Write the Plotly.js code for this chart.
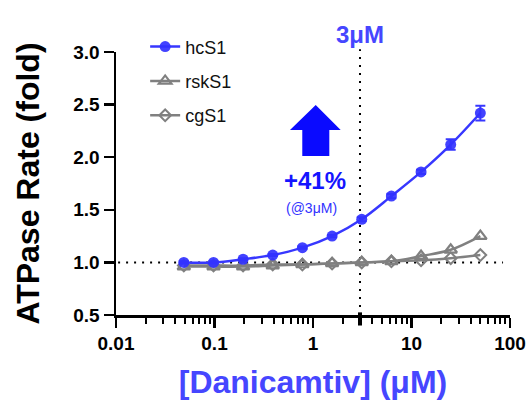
<!DOCTYPE html>
<html>
<head>
<meta charset="utf-8">
<script src="https://cdn.plot.ly/plotly-3.0.1.min.js"></script>
<style>html,body{margin:0;padding:0;background:#fff;}#chart{width:528px;height:400px;}</style>
</head>
<body>
<div id="chart"></div>
<script>
// Concentrations of Danicamtiv (µM), two-fold dilution series
const conc = [0.0488, 0.0977, 0.195, 0.39, 0.78, 1.5625, 3.125, 6.25, 12.5, 25, 50];
// ATPase rate (fold) per myosin
const hcS1 = [1.00, 1.00, 1.03, 1.07, 1.14, 1.25, 1.41, 1.63, 1.86, 2.12, 2.42];
const hcS1Err = [0.01, 0.01, 0.01, 0.01, 0.01, 0.01, 0.02, 0.02, 0.02, 0.05, 0.07];
const rskS1 = [0.96, 0.96, 0.96, 0.97, 0.98, 0.99, 1.00, 1.01, 1.06, 1.12, 1.25];
const cgS1 = [0.97, 0.97, 0.97, 0.98, 0.98, 0.99, 1.00, 1.01, 1.02, 1.04, 1.07];
const xTickVals = [0.01, 0.1, 1, 10, 100];
const xTickText = ['0.01', '0.1', '1', '10', '100'];
const yTickVals = [0.5, 1.0, 1.5, 2.0, 2.5, 3.0];
const refDose = 3;      // µM reference line
const baseline = 1.0;   // fold baseline

const FONT = 'Liberation Sans, Arial, Helvetica, sans-serif';
const BLUE = 'rgb(55,55,255)';
const GRAY = 'rgb(128,128,128)';

const traces = [
  {
    x: conc, y: rskS1, name: 'rskS1', type: 'scatter', mode: 'lines+markers',
    line: {color: GRAY, width: 2.5, shape: 'spline'},
    marker: {symbol: 'triangle-up-open', size: 11, color: GRAY, line: {width: 2.2}},
    legendgroup: 'b', legendrank: 2, cliponaxis: false
  },
  {
    x: conc, y: cgS1, name: 'cgS1', type: 'scatter', mode: 'lines+markers',
    line: {color: GRAY, width: 2.5, shape: 'spline'},
    marker: {symbol: 'diamond-open', size: 9, color: GRAY, line: {width: 2}},
    legendgroup: 'c', legendrank: 3, cliponaxis: false
  },
  {
    x: conc, y: hcS1, name: 'hcS1', type: 'scatter', mode: 'lines+markers',
    line: {color: BLUE, width: 2.5, shape: 'spline'},
    marker: {symbol: 'circle', size: 11, color: 'rgba(50,50,255,0.92)'},
    error_y: {type: 'data', array: hcS1Err, visible: true, color: BLUE, thickness: 2, width: 5},
    legendgroup: 'a', legendrank: 1, cliponaxis: false
  }
];

const layout = {
  width: 528, height: 400,
  margin: {l: 116, r: 18, t: 52, b: 85},
  paper_bgcolor: '#fff', plot_bgcolor: '#fff',
  font: {family: FONT, color: '#000'},
  showlegend: true,
  legend: {
    x: 0.074, y: 1.09, xanchor: 'left', yanchor: 'top',
    font: {family: FONT, size: 18, color: '#111'},
    bgcolor: 'rgba(0,0,0,0)', traceorder: 'grouped', tracegroupgap: 8
  },
  xaxis: {
    type: 'log', range: [-2, 2],
    showgrid: false, zeroline: false,
    showline: true, linecolor: '#000', linewidth: 2.5,
    ticks: 'outside', ticklen: 10, tickwidth: 2.5, tickcolor: '#000',
    tickvals: xTickVals, ticktext: xTickText,
    tickfont: {family: FONT, size: 19, weight: 'bold', color: '#000'},
    minor: {ticks: 'outside', ticklen: 6, tickwidth: 2, tickcolor: '#000', dtick: 'D1', showgrid: false},
    title: {text: '[Danicamtiv] (μM)', font: {family: FONT, size: 32, weight: 'bold', color: 'rgb(70,70,255)'}, standoff: 20},
    automargin: false
  },
  yaxis: {
    range: [0.5, 3.0],
    showgrid: false, zeroline: false,
    showline: true, linecolor: '#000', linewidth: 2.5,
    ticks: 'outside', ticklen: 10, tickwidth: 2.5, tickcolor: '#000',
    tickvals: yTickVals, tickformat: '.1f',
    tickfont: {family: FONT, size: 19, weight: 'bold', color: '#000'},
    title: {text: 'ATPase Rate (fold)', font: {family: FONT, size: 32, weight: 'bold', color: '#000'}, standoff: 24},
    automargin: false
  },
  shapes: [
    {type: 'line', xref: 'x', yref: 'y', x0: 0.0105, x1: 85, y0: baseline, y1: baseline,
     line: {color: '#000', width: 2, dash: '2px,6px'}, layer: 'below'},
    {type: 'line', xref: 'x', yref: 'paper', x0: refDose, x1: refDose, y0: 0, y1: 1.01,
     line: {color: '#000', width: 2, dash: '2px,6px'}, layer: 'below'},
    {type: 'line', xref: 'x', yref: 'paper', x0: refDose, x1: refDose, y0: -0.04, y1: 0.01,
     line: {color: '#000', width: 4}},
    {type: 'path', xref: 'paper', yref: 'paper',
     path: 'M 0.4728,0.6046 L 0.4728,0.7034 L 0.4416,0.7034 L 0.5069,0.7985 L 0.5703,0.7034 L 0.5414,0.7034 L 0.5414,0.6046 Z',
     fillcolor: 'rgb(10,10,255)', line: {width: 0}}
  ],
  annotations: [
    {text: '3μM', xref: 'x', yref: 'paper', x: Math.log10(refDose), y: 1.125, showarrow: false,
     font: {family: FONT, size: 24, weight: 'bold', color: 'rgb(70,70,255)'}},
    {text: '+41%', xref: 'paper', yref: 'paper', x: 0.505, y: 0.513, showarrow: false,
     font: {family: FONT, size: 24, weight: 'bold', color: 'rgb(20,20,255)'}},
    {text: '(@3μM)', xref: 'paper', yref: 'paper', x: 0.497, y: 0.407, showarrow: false,
     font: {family: FONT, size: 14, color: 'rgb(50,50,255)'}}
  ]
};

Plotly.newPlot('chart', traces, layout, {displayModeBar: false, staticPlot: true});
</script>
</body>
</html>
